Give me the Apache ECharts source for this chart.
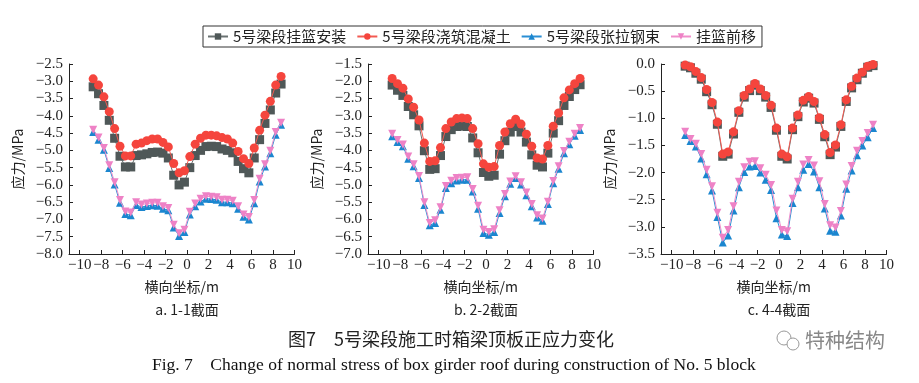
<!DOCTYPE html>
<html><head><meta charset="utf-8">
<script src="https://cdn.jsdelivr.net/npm/echarts@6/dist/echarts.min.js"></script>
<style>html,body{margin:0;padding:0;background:#fff}#c{width:919px;height:383px}</style>
</head><body><div id="c"></div>
<script>
// transverse coordinate (m)
const xCoords = [-8.75,-8.25,-7.75,-7.25,-6.75,-6.25,-5.75,-5.25,-4.75,-4.25,-3.75,-3.25,-2.75,-2.25,-1.75,-1.25,-0.75,-0.25,0.25,0.75,1.25,1.75,2.25,2.75,3.25,3.75,4.25,4.75,5.25,5.75,6.25,6.75,7.25,7.75,8.25,8.75];
const seriesNames = ['5号梁段挂篮安装','5号梁段浇筑混凝土','5号梁段张拉钢束','挂篮前移'];
const xTicks = [-10,-8,-6,-4,-2,0,2,4,6,8,10];
const panelCaptions = ['a. 1-1截面','b. 2-2截面','c. 4-4截面'];
const xAxisName = '横向坐标/m';
const yAxisName = '应力/MPa';
const figTitleCn = '图7　5号梁段施工时箱梁顶板正应力变化';
const figTitleEn = 'Fig. 7    Change of normal stress of box girder roof during construction of No. 5 block';
const watermark = '特种结构';

// panel a: 1-1 section
const aGray = [-3.16,-3.36,-3.70,-4.13,-4.65,-5.17,-5.48,-5.48,-5.15,-5.13,-5.10,-5.06,-5.05,-5.08,-5.22,-5.72,-6.00,-5.92,-5.50,-5.15,-5.00,-4.89,-4.88,-4.89,-4.96,-5.00,-5.07,-5.32,-5.53,-5.65,-5.22,-4.69,-4.22,-3.83,-3.34,-3.08];
const aRed  = [-2.93,-3.11,-3.45,-3.88,-4.37,-4.88,-5.16,-5.16,-4.82,-4.79,-4.72,-4.67,-4.67,-4.77,-4.90,-5.38,-5.65,-5.59,-5.18,-4.82,-4.65,-4.56,-4.56,-4.58,-4.63,-4.67,-4.79,-5.03,-5.24,-5.38,-4.93,-4.42,-3.98,-3.58,-3.11,-2.86];
const aBlue = [-4.47,-4.69,-4.98,-5.51,-5.99,-6.52,-6.84,-6.88,-6.58,-6.64,-6.61,-6.59,-6.60,-6.69,-6.73,-7.23,-7.48,-7.36,-6.86,-6.62,-6.48,-6.40,-6.41,-6.43,-6.50,-6.50,-6.53,-6.69,-6.92,-7.00,-6.53,-5.90,-5.47,-5.08,-4.55,-4.26];
const aPink = [-4.40,-4.63,-4.93,-5.43,-5.92,-6.44,-6.77,-6.80,-6.50,-6.57,-6.54,-6.52,-6.52,-6.62,-6.67,-7.15,-7.40,-7.30,-6.78,-6.54,-6.40,-6.33,-6.34,-6.36,-6.43,-6.43,-6.46,-6.62,-6.86,-6.93,-6.44,-5.82,-5.40,-5.01,-4.47,-4.20];

// panel b: 2-2 section
const bGray = [-2.11,-2.26,-2.41,-2.73,-2.97,-3.29,-4.01,-4.55,-4.53,-4.15,-3.60,-3.40,-3.31,-3.30,-3.31,-3.64,-4.07,-4.64,-4.75,-4.72,-4.11,-3.72,-3.47,-3.31,-3.47,-3.76,-4.13,-4.43,-4.48,-4.08,-3.50,-3.14,-2.70,-2.44,-2.24,-2.10];
const bRed  = [-1.92,-2.07,-2.20,-2.51,-2.75,-3.12,-3.79,-4.32,-4.30,-3.92,-3.37,-3.18,-3.08,-3.06,-3.08,-3.37,-3.81,-4.39,-4.49,-4.47,-3.86,-3.47,-3.23,-3.10,-3.24,-3.53,-3.88,-4.22,-4.25,-3.86,-3.30,-2.92,-2.48,-2.25,-2.07,-1.92];
const bBlue = [-3.59,-3.76,-3.88,-4.24,-4.46,-4.80,-5.58,-6.17,-6.10,-5.72,-5.09,-4.95,-4.87,-4.85,-4.85,-5.19,-5.69,-6.39,-6.44,-6.36,-5.81,-5.33,-4.97,-4.80,-4.99,-5.30,-5.62,-5.94,-6.04,-5.55,-4.95,-4.53,-4.08,-3.82,-3.58,-3.41];
const bPink = [-3.52,-3.70,-3.83,-4.18,-4.40,-4.74,-5.50,-6.10,-6.02,-5.65,-5.03,-4.88,-4.80,-4.79,-4.78,-5.12,-5.60,-6.30,-6.36,-6.28,-5.73,-5.26,-4.90,-4.75,-4.92,-5.22,-5.55,-5.88,-5.97,-5.49,-4.89,-4.46,-4.02,-3.75,-3.52,-3.35];

// panel c: 4-4 section
const cGray = [-0.04,-0.07,-0.17,-0.28,-0.51,-0.75,-1.11,-1.70,-1.66,-1.29,-0.89,-0.61,-0.49,-0.39,-0.49,-0.61,-0.80,-1.22,-1.70,-1.75,-1.21,-0.97,-0.70,-0.63,-0.72,-1.02,-1.34,-1.67,-1.53,-1.15,-0.69,-0.44,-0.29,-0.17,-0.06,-0.03];
const cRed  = [-0.02,-0.05,-0.14,-0.25,-0.47,-0.71,-1.07,-1.66,-1.62,-1.25,-0.86,-0.58,-0.46,-0.36,-0.46,-0.58,-0.76,-1.18,-1.66,-1.71,-1.18,-0.94,-0.67,-0.60,-0.69,-0.99,-1.30,-1.63,-1.49,-1.12,-0.66,-0.41,-0.26,-0.15,-0.04,-0.01];
const cBlue = [-1.31,-1.42,-1.52,-1.74,-2.03,-2.33,-2.82,-3.29,-3.16,-2.70,-2.27,-1.99,-1.89,-1.88,-2.00,-2.13,-2.32,-2.84,-3.14,-3.17,-2.56,-2.27,-1.95,-1.84,-1.98,-2.27,-2.66,-3.07,-3.09,-2.79,-2.30,-1.96,-1.68,-1.50,-1.35,-1.18];
const cPink = [-1.25,-1.38,-1.47,-1.66,-1.95,-2.25,-2.74,-3.20,-3.06,-2.62,-2.17,-1.90,-1.80,-1.79,-1.92,-2.04,-2.23,-2.70,-3.06,-3.08,-2.48,-2.17,-1.85,-1.77,-1.87,-2.16,-2.58,-2.97,-3.01,-2.71,-2.22,-1.88,-1.60,-1.42,-1.27,-1.12];

const yRanges = [[-8,-2.5],[-7,-1.5],[-3.5,0]];
const panels = [[aGray,aRed,aBlue,aPink],[bGray,bRed,bBlue,bPink],[cGray,cRed,cBlue,cPink]];

const gridLefts = [69,368,661];
const gridWidth = 225.5;
const gridTop = 64, gridHeight = 190;

const colors = ['#4f5858','#f5453d','#1b86cf','#ee82c6'];
const lineColors = ['#6a7272','#f35a52','#2a8fd4','#f08ecb'];
const symbols = ['rect','circle','triangle','triangle'];
const symbolSizes = [9,9,8,8];
const symbolRotates = [0,0,0,180];

const numFont = 'Liberation Serif';
const cjkFont = '"Noto Sans CJK SC"';

const grids = [], xAxes = [], yAxes = [], series = [];
for (let p = 0; p < 3; p++) {
  grids.push({left: gridLefts[p], top: gridTop, width: gridWidth, height: gridHeight});
  xAxes.push({
    type: 'value', gridIndex: p, min: -11, max: 10, position: 'bottom',
    name: xAxisName, nameLocation: 'middle', nameGap: 26,
    nameTextStyle: {fontFamily: cjkFont, fontSize: 14, color: '#222'},
    axisLine: {onZero: false, lineStyle: {color: '#222', width: 1}},
    axisTick: {inside: true, length: 4, customValues: xTicks, lineStyle: {color: '#222'}},
    axisLabel: {customValues: xTicks, margin: 4, fontFamily: numFont, fontSize: 15, color: '#222',
      formatter: v => (v < 0 ? '\u2212' : '') + Math.abs(v)},
    splitLine: {show: false}
  });
  yAxes.push({
    type: 'value', gridIndex: p, min: yRanges[p][0], max: yRanges[p][1], interval: 0.5, position: 'left',
    name: yAxisName, nameLocation: 'middle', nameGap: 44, nameRotate: 90,
    nameTextStyle: {fontFamily: cjkFont, fontSize: 14, color: '#222'},
    axisLine: {show: true, onZero: false, lineStyle: {color: '#222', width: 1}},
    axisTick: {show: true, inside: true, length: 4, lineStyle: {color: '#222'}},
    axisLabel: {margin: 6, fontFamily: numFont, fontSize: 15, color: '#222',
      formatter: v => (v < 0 ? '\u2212' : '') + Math.abs(v).toFixed(1)},
    splitLine: {show: false}
  });
  for (let s = 0; s < 4; s++) {
    series.push({
      name: seriesNames[s], type: 'line', xAxisIndex: p, yAxisIndex: p,
      data: xCoords.map((x, i) => [x, panels[p][s][i]]),
      symbol: symbols[s], symbolSize: symbolSizes[s], symbolRotate: symbolRotates[s],
      showAllSymbol: true,
      itemStyle: {color: colors[s]},
      lineStyle: {color: lineColors[s], width: 1},
      animation: false, z: 2 + s
    });
  }
}

const graphics = [];
const captionCenters = [187, 486, 779];
for (let p = 0; p < 3; p++) {
  graphics.push({type: 'text', x: captionCenters[p], y: 310,
    style: {text: panelCaptions[p], fontFamily: cjkFont, fontSize: 14, fill: '#222', textAlign: 'center', textVerticalAlign: 'middle'}});
}
graphics.push({type: 'text', x: 288, y: 339,
  style: {text: figTitleCn, fontFamily: cjkFont, fontSize: 18, fill: '#222', textAlign: 'left', textVerticalAlign: 'middle'}});
graphics.push({type: 'text', x: 152, y: 365,
  style: {text: figTitleEn, fontFamily: numFont, fontSize: 17.5, fill: '#111', textAlign: 'left', textVerticalAlign: 'middle'}});
graphics.push({type: 'circle', shape: {cx: 784, cy: 338, r: 7}, style: {fill: 'none', stroke: '#999', lineWidth: 1}});
graphics.push({type: 'circle', shape: {cx: 793, cy: 344, r: 6}, style: {fill: '#fff', stroke: '#999', lineWidth: 1}});
graphics.push({type: 'text', x: 805, y: 340,
  style: {text: watermark, fontFamily: cjkFont, fontSize: 20, fill: '#888', textAlign: 'left', textVerticalAlign: 'middle'}});

const chart = echarts.init(document.getElementById('c'), null, {renderer: 'canvas'});
chart.setOption({
  animation: false,
  backgroundColor: '#fff',
  legend: {
    left: 203, top: 26, data: seriesNames,
    borderColor: '#333', borderWidth: 1, padding: [3, 6, 3, 4],
    itemGap: 10, itemWidth: 20, itemHeight: 8,
    textStyle: {fontFamily: cjkFont, fontSize: 15, color: '#222'}
  },
  grid: grids, xAxis: xAxes, yAxis: yAxes, series: series, graphic: graphics
});
</script></body></html>
